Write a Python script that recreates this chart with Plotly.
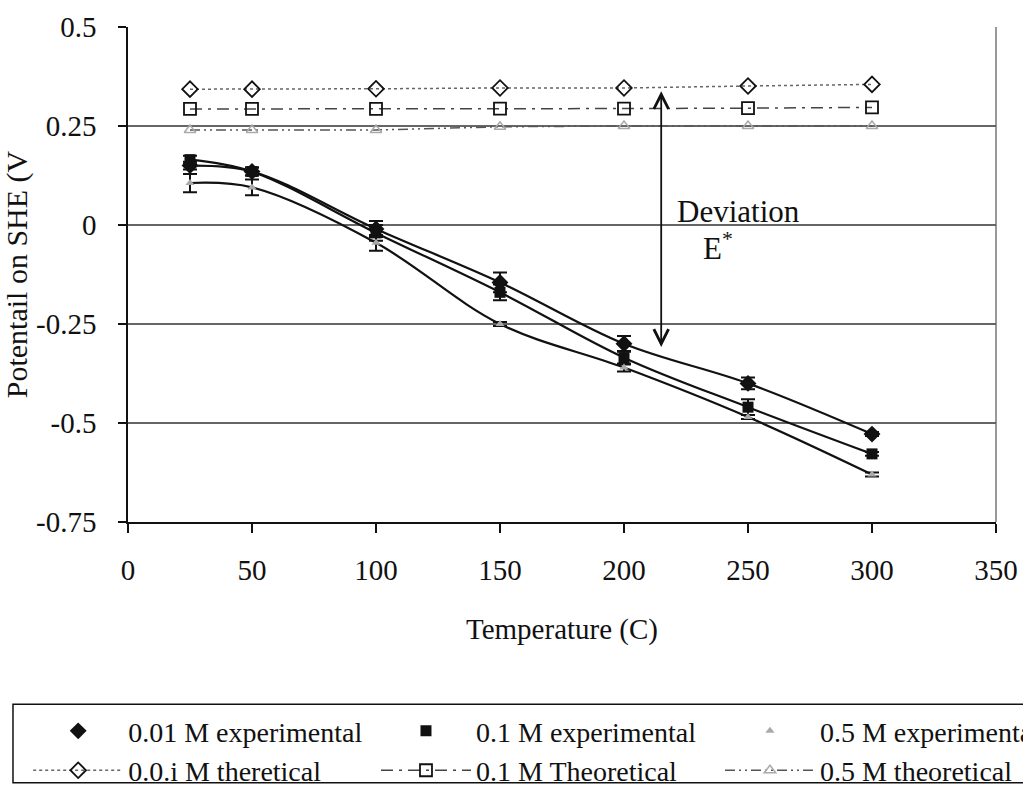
import plotly.graph_objects as go

# ---------------- data ----------------
temperature = [25, 50, 100, 150, 200, 250, 300]

exp_001 = [0.150, 0.135, -0.010, -0.145, -0.300, -0.400, -0.528]
exp_01 = [0.165, 0.135, -0.020, -0.170, -0.335, -0.460, -0.578]
exp_05 = [0.106, 0.095, -0.045, -0.250, -0.360, -0.485, -0.630]

err_001 = [0.010, 0.010, 0.020, 0.025, 0.020, 0.015, 0.005]
err_01 = [0.010, 0.010, 0.020, 0.020, 0.017, 0.020, 0.005]
err_05 = [0.023, 0.020, 0.020, 0.005, 0.010, 0.005, 0.005]

th_001 = [0.343, 0.343, 0.344, 0.346, 0.346, 0.351, 0.355]
th_01 = [0.293, 0.293, 0.293, 0.294, 0.294, 0.295, 0.297]
th_05 = [0.240, 0.240, 0.240, 0.248, 0.250, 0.250, 0.250]

names_exp = ["0.01 M experimental", "0.1 M experimental", "0.5 M experimental"]
names_th = ["0.0.i M theretical", "0.1 M Theoretical", "0.5 M theoretical"]

x_ticks = [0, 50, 100, 150, 200, 250, 300, 350]
y_ticks = [-0.75, -0.5, -0.25, 0, 0.25, 0.5]
y_ticktext = ["-0.75", "-0.5", "-0.25", "0", "0.25", "0.5"]
grid_levels = [-0.5, -0.25, 0, 0.25]

FONT = "Liberation Serif"
INK = "#111"

fig = go.Figure()

# smoothed lines through experimental data (no legend)
for ys in (exp_001, exp_01, exp_05):
    fig.add_trace(go.Scatter(x=temperature, y=ys, mode="lines",
                             line=dict(color=INK, width=2.2, shape="spline", smoothing=1.0),
                             showlegend=False, hoverinfo="skip"))

exp_styles = [
    dict(symbol="diamond", size=13, color=INK),
    dict(symbol="square", size=11, color=INK),
    dict(symbol="triangle-up", size=8, color="#aaaaaa"),
]
th_styles = [
    (dict(symbol="diamond-open", size=12, color=INK, line=dict(width=1.8)),
     dict(color="#666", width=1.5, dash="dot")),
    (dict(symbol="square-open", size=12, color=INK, line=dict(width=1.8)),
     dict(color="#444", width=1.5, dash="12px,6px,3px,6px")),
    (dict(symbol="triangle-up-open", size=10, color="#aaaaaa", line=dict(width=1.5)),
     dict(color="#555", width=1.5, dash="10px,4px,2px,4px,2px,4px")),
]

legends = ["legend", "legend2", "legend3"]
exps = [exp_001, exp_01, exp_05]
errs = [err_001, err_01, err_05]
ths = [th_001, th_01, th_05]

for i in range(3):
    fig.add_trace(go.Scatter(
        x=temperature, y=exps[i], mode="markers", name=names_exp[i],
        marker=exp_styles[i],
        error_y=dict(type="data", array=errs[i], visible=True, color=INK,
                     thickness=2, width=7),
        legend=legends[i]))
    fig.add_trace(go.Scatter(
        x=temperature, y=ths[i], mode="lines+markers", name=names_th[i],
        marker=th_styles[i][0], line=th_styles[i][1],
        legend=legends[i]))

shapes = []
for g in grid_levels:
    shapes.append(dict(type="line", xref="x domain", yref="y", x0=0, x1=1, y0=g, y1=g,
                       line=dict(color="#333", width=1.5), layer="below"))
# right border of plot area
shapes.append(dict(type="line", xref="x domain", yref="y domain", x0=1, x1=1, y0=0, y1=1,
                   line=dict(color="#555", width=1.2), layer="below"))
# legend box
shapes.append(dict(type="rect", xref="paper", yref="paper",
                   x0=-0.1325, x1=1.2, y0=-0.527, y1=-0.368,
                   line=dict(color=INK, width=1.5), fillcolor="rgba(0,0,0,0)"))

annotations = [
    dict(x=215, y=0.338, ax=215, ay=-0.312, xref="x", yref="y", axref="x", ayref="y",
         showarrow=True, arrowhead=5, startarrowhead=5, arrowside="end+start",
         arrowsize=1.6, startarrowsize=1.6, arrowwidth=1.8, arrowcolor=INK, text=""),
    dict(x=246, y=0.035, xref="x", yref="y", text="Deviation", showarrow=False,
         font=dict(family=FONT, size=31, color=INK)),
    dict(x=238, y=-0.055, xref="x", yref="y", text="E<sup>*</sup>", showarrow=False,
         font=dict(family=FONT, size=31, color=INK)),
]

leg_common = dict(orientation="v", xanchor="left", yanchor="top", bgcolor="rgba(0,0,0,0)",
                  borderwidth=0, itemwidth=90, font=dict(family=FONT, size=28, color=INK),
                  traceorder="normal")

fig.update_layout(
    width=1023, height=800,
    paper_bgcolor="white", plot_bgcolor="white",
    margin=dict(l=128, r=27, t=27, b=278, autoexpand=False),
    font=dict(family=FONT, size=29, color=INK),
    shapes=shapes, annotations=annotations,
    legend=dict(x=-0.115, y=-0.372, **leg_common),
    legend2=dict(x=0.2857, y=-0.372, **leg_common),
    legend3=dict(x=0.682, y=-0.372, **leg_common),
    xaxis=dict(range=[0, 350], tickvals=x_ticks, showgrid=False, zeroline=False,
               showline=True, linecolor=INK, linewidth=1.5,
               ticks="outside", ticklen=9, tickwidth=1.5, tickcolor=INK,
               ticklabelstandoff=12, tickfont=dict(family=FONT, size=29, color=INK),
               title=dict(text="Temperature (C)", standoff=34,
                          font=dict(family=FONT, size=29, color=INK))),
    yaxis=dict(range=[-0.75, 0.5], tickvals=y_ticks, ticktext=y_ticktext,
               showgrid=False, zeroline=False,
               showline=True, linecolor=INK, linewidth=1.5,
               ticks="outside", ticklen=8, tickwidth=1.5, tickcolor=INK,
               ticklabelstandoff=16, tickfont=dict(family=FONT, size=29, color=INK),
               title=dict(text="Potentail on SHE (V", standoff=0,
                          font=dict(family=FONT, size=30, color=INK))),
)

fig.write_html("out.html")
